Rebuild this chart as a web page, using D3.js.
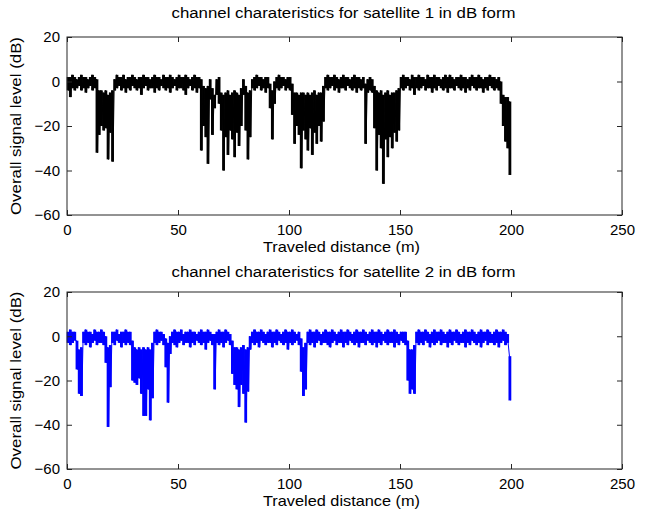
<!DOCTYPE html>
<html>
<head>
<meta charset="utf-8">
<script src="https://cdn.jsdelivr.net/npm/d3@7"></script>
<style>
body{margin:0;background:#fff;}
text{font-family:"Liberation Sans",Arial,sans-serif;fill:#000;}
</style>
</head>
<body>
<div class="canvas"></div>
<script>
//tick labels
var xTicks = [0,50,100,150,200,250];
var yTicks = [-60,-40,-20,0,20];
var titles = ["channel charateristics for satellite 1 in dB form","channel charateristics for satellite 2 in dB form"];

//one entry per metre (0..199): upper and lower edge of the trace
var sat1Hi = [
 2,2,3,2,1,2,3,2,2,1,2,3,2,1,-4,-4,-5,-4,-6,-5,
 -4,1,3,2,2,3,1,2,2,3,2,1,2,2,3,2,2,1,2,3,
 2,2,1,3,2,2,3,2,1,2,3,2,2,3,2,1,2,3,2,2,
 1,-2,-3,-2,1,-3,-6,1,2,-5,-6,-5,-4,-6,-5,-4,-5,-6,-3,1,
 -2,-5,-4,1,2,3,2,2,1,2,2,-1,-4,0,2,3,2,2,1,2,
 2,-1,-5,-5,-6,-5,-5,-6,-5,-6,-5,-4,-6,-5,-5,-2,2,3,2,2,
 3,2,1,2,3,2,2,1,2,3,2,2,1,2,-1,1,2,1,-2,-4,
 -5,-4,-6,-5,-4,-6,-5,-5,-4,-3,2,3,2,2,1,3,2,2,3,2,
 2,1,3,2,2,3,2,2,1,2,3,2,3,2,1,2,2,3,2,2,
 1,2,3,2,2,3,2,1,2,2,3,2,2,1,2,0,-6,-7,-7,-9
];
var sat1Lo = [
 -4,-7,-3,-4,-3,-2,-4,-3,-5,-3,-2,-4,-3,-32,-24,-20,-22,-21,-35,-23,
 -36,-4,-3,-2,-4,-3,-5,-3,-4,-2,-3,-4,-3,-6,-3,-2,-4,-3,-3,-5,
 -3,-4,-2,-3,-4,-3,-5,-3,-2,-4,-3,-3,-4,-6,-3,-2,-4,-3,-5,-3,
 -31,-20,-25,-37,-8,-24,-12,-6,-10,-22,-40,-25,-33,-22,-26,-34,-23,-29,-20,-6,
 -22,-35,-25,-3,-4,-3,-2,-4,-3,-5,-3,-12,-26,-10,-3,-4,-3,-2,-4,-3,
 -4,-15,-28,-20,-24,-39,-22,-26,-31,-21,-33,-23,-28,-20,-27,-18,-3,-4,-3,-2,
 -4,-3,-5,-3,-3,-4,-2,-3,-4,-3,-5,-3,-4,-3,-28,-5,-4,-5,-21,-40,
 -24,-30,-46,-26,-34,-25,-30,-23,-27,-22,-3,-4,-3,-2,-4,-3,-6,-3,-4,-3,
 -2,-4,-3,-3,-5,-3,-4,-2,-3,-4,-3,-5,-3,-3,-4,-2,-3,-4,-3,-5,
 -3,-4,-2,-3,-4,-3,-3,-5,-3,-4,-2,-3,-4,-3,-4,-10,-20,-27,-30,-42
];
var sat2Hi = [
 2,3,2,2,-2,-6,-5,2,3,2,2,1,3,2,2,3,2,0,-5,-4,
 2,2,3,1,2,2,3,2,2,-2,-5,-6,-5,-6,-5,-6,-5,-6,-3,2,
 3,2,2,1,-1,-3,0,2,3,2,2,3,1,2,2,3,2,2,1,2,
 3,2,2,3,2,1,1,2,3,2,2,3,2,1,-2,-5,-5,-6,-5,-4,
 -6,-5,0,2,3,2,2,3,2,1,2,3,2,2,3,2,1,2,3,2,
 2,3,2,1,2,-1,-5,-3,2,3,2,2,3,2,1,2,3,2,2,3,
 2,1,2,3,2,2,3,2,1,2,3,2,2,3,2,1,2,3,2,2,
 3,2,1,2,3,2,2,3,2,1,2,2,2,-2,-6,-6,-4,2,3,2,
 2,3,2,1,2,3,2,2,3,2,1,2,3,2,2,3,2,1,2,3,
 2,2,3,2,1,2,3,2,2,3,2,1,2,3,2,2,3,2,1,-9
];
var sat2Lo = [
 -3,-4,-3,-2,-15,-26,-27,-3,-4,-3,-5,-3,-2,-4,-3,-3,-4,-12,-41,-23,
 -3,-4,-2,-3,-5,-3,-4,-3,-4,-20,-21,-22,-19,-26,-36,-36,-24,-38,-28,-3,
 -4,-3,-2,-4,-14,-30,-8,-3,-4,-5,-3,-2,-4,-3,-3,-5,-3,-4,-2,-3,
 -4,-3,-6,-3,-2,-4,-24,-3,-4,-3,-5,-3,-2,-4,-17,-22,-24,-32,-22,-26,
 -39,-25,-6,-3,-4,-3,-5,-2,-3,-4,-3,-3,-5,-3,-4,-2,-3,-4,-3,-6,
 -3,-4,-3,-2,-4,-16,-27,-24,-3,-4,-3,-5,-3,-2,-4,-3,-3,-4,-5,-3,
 -2,-4,-3,-3,-5,-3,-4,-2,-3,-4,-3,-5,-3,-3,-4,-2,-3,-4,-3,-5,
 -3,-4,-2,-3,-4,-3,-3,-5,-3,-4,-2,-3,-4,-20,-26,-24,-26,-3,-4,-3,
 -4,-2,-3,-5,-3,-4,-3,-2,-4,-3,-3,-5,-3,-4,-2,-3,-4,-3,-3,-5,
 -3,-4,-2,-3,-4,-3,-5,-3,-2,-4,-3,-3,-4,-3,-5,-3,-2,-4,-3,-29
];

var W = 652, H = 513;
var margin = {l:67, r:30};
var width = W - margin.l - margin.r;

var svg = d3.select('.canvas')
    .append('svg')
    .attr('width', W)
    .attr('height', H);

var x = d3.scaleLinear().domain([0,250]).range([0, width]);

//zigzag through hi/lo of each metre, so neighbouring strokes join up
function trace(hi, lo){
    var pts = [];
    hi.forEach(function(h, i){
        pts.push([i + 0.3, h]);
        pts.push([i + 0.7, lo[i]]);
    });
    return pts;
}

function panel(top, h, hi, lo, color, title, titleGap){
    var y = d3.scaleLinear().domain([-60,20]).range([h, 0]);
    var g = svg.append('g')
        .attr('transform','translate('+margin.l+','+top+')');

    //one vertical stroke per metre, from the upper edge to the lower edge
    var bin = x(1) - x(0);
    g.append('g').selectAll('line')
        .data(hi)
        .enter()
        .append('line')
        .attr('x1', function(d,i){ return x(i + 0.5); })
        .attr('x2', function(d,i){ return x(i + 0.5); })
        .attr('y1', function(d){ return y(d); })
        .attr('y2', function(d,i){ return y(lo[i]); })
        .attr('stroke', color)
        .attr('stroke-width', bin + 0.6);

    g.append('path')
        .datum(trace(hi, lo))
        .attr('fill','none')
        .attr('stroke', color)
        .attr('stroke-width', 1)
        .attr('d', d3.line()
            .x(function(d){ return x(d[0]); })
            .y(function(d){ return y(d[1]); }));

    //box with inward ticks on all sides, matlab style
    g.append('rect')
        .attr('width', width).attr('height', h)
        .attr('fill','none').attr('stroke','#262626');

    g.append('g').attr('transform','translate(0,'+h+')')
        .call(d3.axisBottom(x).tickValues(xTicks).tickSizeInner(-5).tickSizeOuter(0).tickPadding(9));
    g.append('g')
        .call(d3.axisTop(x).tickValues(xTicks).tickSizeInner(-5).tickSizeOuter(0).tickFormat(''));
    g.append('g')
        .call(d3.axisLeft(y).tickValues(yTicks).tickSizeInner(-5).tickSizeOuter(0).tickPadding(7));
    g.append('g').attr('transform','translate('+width+',0)')
        .call(d3.axisRight(y).tickValues(yTicks).tickSizeInner(-5).tickSizeOuter(0).tickFormat(''));

    g.selectAll('.domain').remove();
    g.selectAll('.tick line').attr('stroke','#262626');
    g.selectAll('.tick text').style('font-size','15px');

    g.append('text')
        .attr('x', width/2 - 1).attr('y', -titleGap)
        .attr('text-anchor','middle')
        .attr('textLength', 344).attr('lengthAdjust','spacingAndGlyphs')
        .style('font-size','14px')
        .text(title);

    g.append('text')
        .attr('x', width/2 - 3).attr('y', h + 37)
        .attr('text-anchor','middle')
        .attr('textLength', 157).attr('lengthAdjust','spacingAndGlyphs')
        .style('font-size','15px')
        .text('Traveled distance (m)');

    g.append('text')
        .attr('transform','translate(-46,'+(h/2)+') rotate(-90)')
        .attr('text-anchor','middle')
        .attr('textLength', 178).attr('lengthAdjust','spacingAndGlyphs')
        .style('font-size','15px')
        .text('Overall signal level (dB)');
}

panel(37, 178, sat1Hi, sat1Lo, '#000', titles[0], 19);
panel(292, 177, sat2Hi, sat2Lo, '#0000ff', titles[1], 15);
</script>
</body>
</html>
